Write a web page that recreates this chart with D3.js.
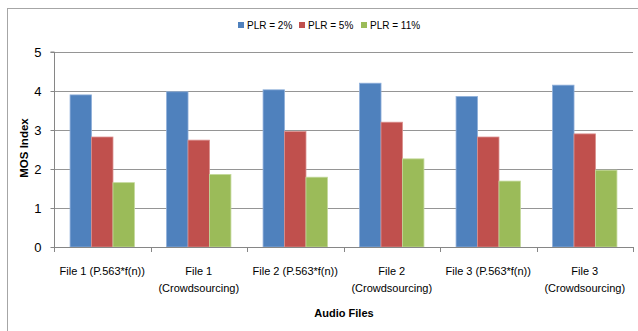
<!DOCTYPE html>
<html lang="en">
<head>
    <meta charset="UTF-8">
    <title>MOS Index by Audio File</title>
    <script src="https://cdn.jsdelivr.net/npm/d3@7"></script>
    <style>
        body{
            margin: 0;
            background: #fff;
            font-family: "Liberation Sans", Arial, sans-serif;
        }
    </style>
</head>
<body>
<svg id="main" width="638" height="331"></svg>
<script>

    // categories (two-line labels)
    const categories = [
        ["File 1 (P.563*f(n))"],
        ["File 1", "(Crowdsourcing)"],
        ["File 2 (P.563*f(n))"],
        ["File 2", "(Crowdsourcing)"],
        ["File 3 (P.563*f(n))"],
        ["File 3", "(Crowdsourcing)"]
    ];
    const seriesNames = ["PLR = 2%", "PLR = 5%", "PLR = 11%"];
    const plr2  = [3.90, 3.98, 4.03, 4.20, 3.86, 4.15];
    const plr5  = [2.82, 2.74, 2.96, 3.20, 2.82, 2.90];
    const plr11 = [1.65, 1.86, 1.79, 2.26, 1.69, 1.97];
    const yTicks = [0, 1, 2, 3, 4, 5];

    const colors = ["#4F81BD", "#C0504D", "#9BBB59"];
    const edges  = ["#8FB0DA", "#DA8E8C", "#C3D99A"];

    const margin = {top: 52, left: 54, right: 5, bottom: 84};
    const width = 638, height = 331;

    const svg = d3.select('svg#main');

    // outer chart border
    svg.append('rect')
        .attr('x', 7.5).attr('y', 8.5)
        .attr('width', 640).attr('height', 340)
        .attr('fill', 'none')
        .attr('stroke', '#a6a6a6');

    const x0 = d3.scaleBand()
        .domain(d3.range(categories.length))
        .range([margin.left, width - margin.right])
        .paddingInner(0.333)
        .paddingOuter(0.1665);

    const x1 = d3.scaleBand()
        .domain(d3.range(seriesNames.length))
        .range([0, x0.bandwidth()]);

    const y = d3.scaleLinear()
        .domain([0, 5])
        .range([height - margin.bottom, margin.top]);

    // gridlines
    svg.append('g')
        .selectAll('line')
        .data(yTicks.slice(1))
        .enter()
        .append('line')
        .attr('x1', margin.left).attr('x2', width - margin.right)
        .attr('y1', d => Math.round(y(d)) + 0.5).attr('y2', d => Math.round(y(d)) + 0.5)
        .attr('stroke', '#959595');

    // bars
    const seriesData = [plr2, plr5, plr11];
    seriesData.forEach((vals, s) => {
        svg.append('g')
            .selectAll('rect')
            .data(vals)
            .enter()
            .append('rect')
            .attr('x', (d, i) => x0(i) + x1(s))
            .attr('y', d => y(d))
            .attr('width', x1.bandwidth())
            .attr('height', d => y(0) - y(d))
            .attr('fill', colors[s])
            .attr('stroke', edges[s])
            .attr('stroke-width', 0.8);
    });

    // y axis
    const yAxis = svg.append('g')
        .attr('transform', `translate(${margin.left + 0.5},0)`)
        .call(d3.axisLeft(y).tickValues(yTicks).tickFormat(d3.format('d')).tickSize(4).tickPadding(9));
    yAxis.select('.domain').attr('stroke', '#868686').attr('d', `M-4,${y(5)}H0V${y(0)}`);
    yAxis.selectAll('.tick line').attr('stroke', '#868686');
    yAxis.selectAll('.tick text')
        .attr('font-size', 13)
        .attr('fill', '#000')
        .attr('font-family', '"Liberation Sans", Arial, sans-serif');

    // x axis line + category boundary ticks
    const step = x0.step();
    const xg = svg.append('g');
    xg.append('line')
        .attr('x1', margin.left).attr('x2', width - margin.right)
        .attr('y1', y(0) + 0.5).attr('y2', y(0) + 0.5)
        .attr('stroke', '#868686');
    xg.selectAll('.bt')
        .data(d3.range(categories.length + 1))
        .enter()
        .append('line')
        .attr('x1', i => Math.round(margin.left + i * step) + 0.5)
        .attr('x2', i => Math.round(margin.left + i * step) + 0.5)
        .attr('y1', y(0)).attr('y2', y(0) + 5)
        .attr('stroke', '#868686');

    // category labels
    xg.selectAll('.cat')
        .data(categories)
        .enter()
        .append('text')
        .attr('text-anchor', 'middle')
        .attr('font-size', 11)
        .attr('fill', '#000')
        .each(function(lines, i) {
            const t = d3.select(this);
            lines.forEach((ln, k) => {
                t.append('tspan')
                    .attr('x', x0(i) + x0.bandwidth() / 2)
                    .attr('y', 275 + k * 17)
                    .text(ln);
            });
        });

    // axis titles
    svg.append('text')
        .attr('x', 344).attr('y', 317)
        .attr('text-anchor', 'middle')
        .attr('font-size', 11)
        .attr('font-weight', 'bold')
        .text('Audio Files');

    svg.append('text')
        .attr('transform', `translate(28,148) rotate(-90)`)
        .attr('text-anchor', 'middle')
        .attr('font-size', 11.5)
        .attr('font-weight', 'bold')
        .text('MOS Index');

    // legend
    const legendX = [238, 299, 361];
    const legend = svg.append('g')
        .selectAll('g')
        .data(seriesNames)
        .enter()
        .append('g')
        .attr('transform', (d, i) => `translate(${legendX[i]},22)`);
    legend.append('rect')
        .attr('width', 6).attr('height', 6)
        .attr('fill', (d, i) => colors[i]);
    legend.append('text')
        .attr('x', 9).attr('y', 7)
        .attr('font-size', 10)
        .attr('fill', '#000')
        .text(d => d);

</script>
</body>
</html>
